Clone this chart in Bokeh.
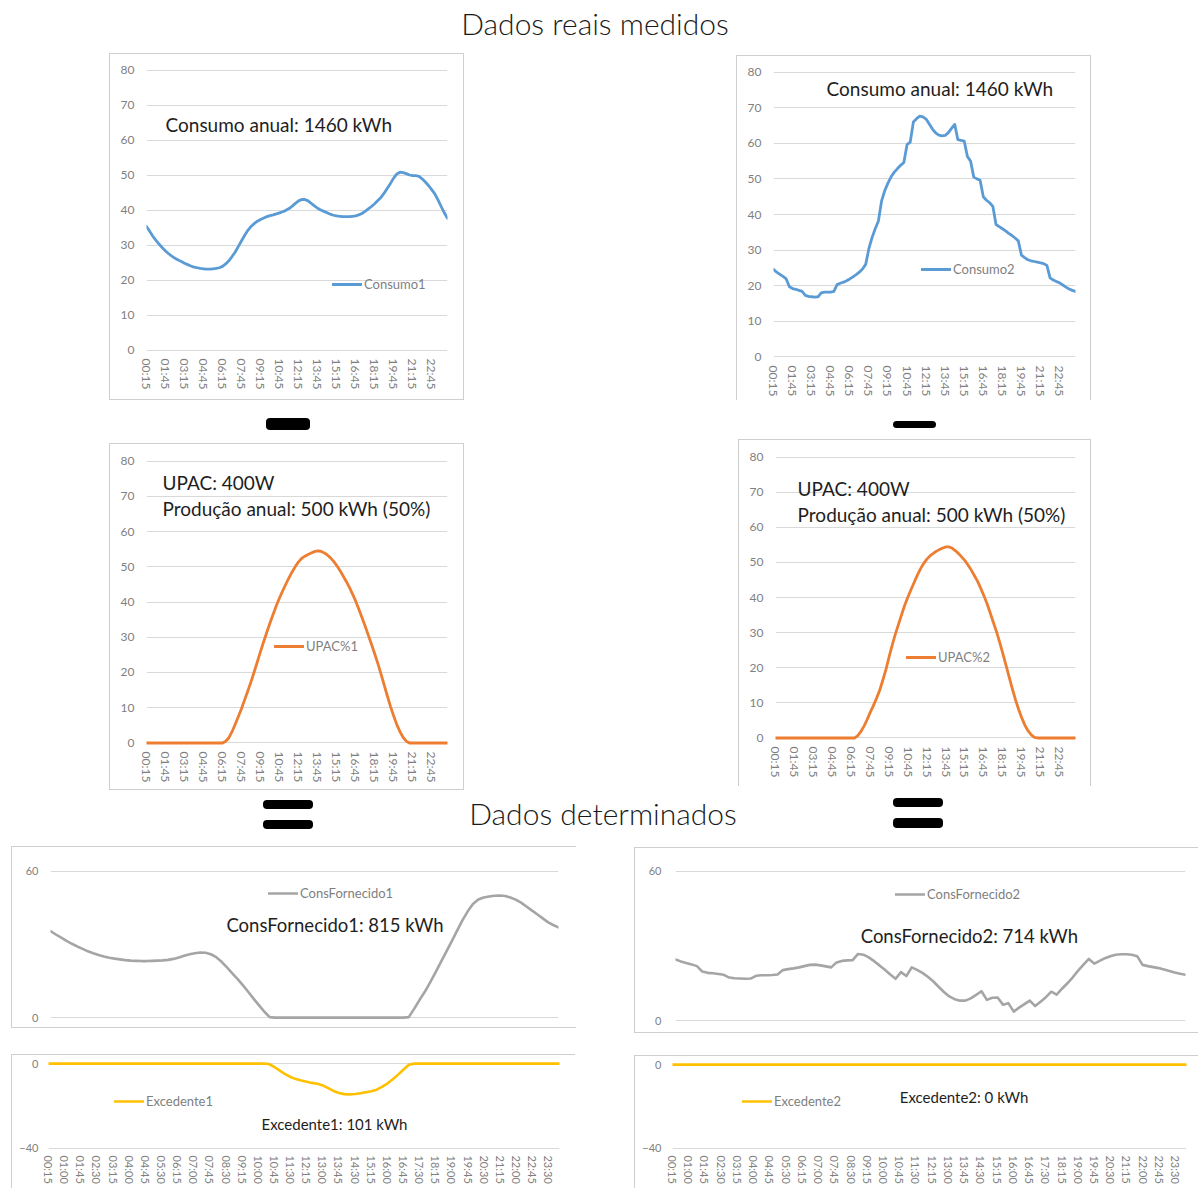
from bokeh.plotting import figure
from bokeh.layouts import column, row
from bokeh.models import Spacer, Div, Range1d, FixedTicker, Label
from bokeh.embed import file_html
from bokeh.resources import INLINE

# ---------------- data ----------------
title_top = "Dados reais medidos"
title_bottom = "Dados determinados"

# 96 quarter-hour categories 00:15 ... 24:00
times = [f"{((k + 1) * 15) // 60:02d}:{((k + 1) * 15) % 60:02d}" for k in range(96)]
idx = list(range(96))
top_tick_idx = list(range(0, 96, 6))      # 00:15, 01:45, ... 22:45
bottom_tick_idx = list(range(0, 96, 3))   # 00:15, 01:00, ... 23:30

consumo1 = [
    35.3, 33.9, 32.5, 31.3, 30.2, 29.2, 28.3, 27.5, 26.8, 26.2, 25.7, 25.3,
    24.8, 24.4, 24.0, 23.7, 23.5, 23.3, 23.2, 23.1, 23.1, 23.2, 23.3, 23.5,
    23.9, 24.6, 25.5, 26.7, 28.0, 29.6, 31.2, 32.8, 34.2, 35.3, 36.1, 36.8,
    37.3, 37.7, 38.1, 38.4, 38.6, 38.9, 39.2, 39.5, 39.9, 40.4, 41.1, 41.9,
    42.6, 43.0, 43.0, 42.6, 41.9, 41.2, 40.5, 40.0, 39.6, 39.2, 38.8, 38.5,
    38.3, 38.2, 38.1, 38.1, 38.1, 38.2, 38.3, 38.6, 39.0, 39.6, 40.3, 41.0,
    41.8, 42.7, 43.6, 44.8, 46.2, 47.6, 49.1, 50.3, 50.8, 50.7, 50.4, 50.0,
    49.8, 49.8, 49.6, 48.9, 48.0, 47.0, 45.8, 44.6, 42.9, 41.0, 39.2, 37.6,
]

consumo2 = [
    24.6, 23.8, 23.2, 22.6, 21.9, 19.7, 19.2, 19.0, 18.7, 18.4, 17.3, 17.0,
    16.9, 16.8, 16.9, 18.0, 18.2, 18.2, 18.2, 18.4, 20.3, 20.7, 21.0, 21.4,
    21.9, 22.5, 23.1, 23.8, 24.7, 26.0, 30.4, 33.5, 36.0, 38.2, 43.8, 46.7,
    48.8, 50.6, 51.9, 52.9, 53.8, 54.6, 59.6, 60.3, 66.0, 66.9, 67.6, 67.4,
    66.8, 65.4, 64.0, 62.9, 62.3, 62.1, 62.2, 63.0, 64.2, 65.3, 61.0, 60.8,
    60.6, 56.3, 55.0, 50.5, 50.0, 49.6, 45.0, 44.0, 43.3, 42.3, 37.2, 36.6,
    36.0, 35.4, 34.7, 34.1, 33.4, 32.6, 28.6, 27.9, 27.3, 27.0, 26.8, 26.6,
    26.4, 26.2, 25.7, 22.2, 21.6, 21.2, 20.8, 20.2, 19.6, 19.1, 18.7, 18.4,
]

upac1 = [
    0, 0, 0, 0, 0, 0, 0, 0, 0, 0, 0, 0,
    0, 0, 0, 0, 0, 0, 0, 0, 0, 0, 0, 0,
    0, 0.5, 1.5, 3.2, 5.3, 7.5, 9.8, 12.3, 14.8, 17.4, 20.2, 23.1,
    26.0, 28.8, 31.5, 34.1, 36.6, 39.0, 41.2, 43.2, 45.1, 46.9, 48.6, 50.1,
    51.4, 52.4, 53.0, 53.5, 53.9, 54.3, 54.5, 54.4, 54.0, 53.4, 52.6, 51.6,
    50.4, 49.0, 47.5, 45.9, 44.2, 42.3, 40.3, 38.0, 35.6, 33.2, 30.6, 28.0,
    25.4, 22.6, 19.6, 16.5, 13.4, 10.4, 7.7, 5.2, 3.2, 1.6, 0.5, 0,
    0, 0, 0, 0, 0, 0, 0, 0, 0, 0, 0, 0,
]

upac2 = [
    0, 0, 0, 0, 0, 0, 0, 0, 0, 0, 0, 0,
    0, 0, 0, 0, 0, 0, 0, 0, 0, 0, 0, 0,
    0, 0, 0.6, 1.8, 3.3, 5.2, 7.3, 9.2, 11.3, 13.6, 16.5, 19.6,
    23.2, 26.6, 29.7, 32.5, 35.3, 38.0, 40.3, 42.4, 44.5, 46.5, 48.3, 49.8,
    51.0, 51.9, 52.6, 53.2, 53.7, 54.1, 54.4, 54.4, 54.0, 53.3, 52.5, 51.5,
    50.5, 49.2, 47.8, 46.2, 44.6, 42.6, 40.5, 38.2, 35.6, 32.9, 30.2, 27.2,
    24.0, 20.7, 17.3, 14.0, 10.9, 8.1, 5.7, 3.6, 2.0, 0.9, 0.2, 0,
    0, 0, 0, 0, 0, 0, 0, 0, 0, 0, 0, 0,
]

cons_fornecido1 = [
    35.5, 34.1, 32.8, 31.5, 30.3, 29.2, 28.2, 27.2, 26.4, 25.7, 25.1, 24.6,
    24.2, 23.9, 23.6, 23.4, 23.3, 23.2, 23.2, 23.3, 23.4, 23.5, 23.7, 24.1,
    24.7, 25.4, 26.0, 26.4, 26.7, 26.6, 26.0, 24.8, 22.9, 20.6, 18.2, 15.8,
    13.2, 10.5, 7.7, 5.0, 2.4, 0.2, 0, 0, 0, 0, 0, 0,
    0, 0, 0, 0, 0, 0, 0, 0, 0, 0, 0, 0,
    0, 0, 0, 0, 0, 0, 0, 0.2, 3.6, 7.2, 10.6, 14.5,
    18.6, 22.8, 27.0, 31.2, 35.5, 39.8, 43.5, 46.6, 48.5, 49.3, 49.7, 50.0,
    50.1, 49.9, 49.3, 48.4, 47.2, 45.6, 44.0, 42.4, 40.8, 39.2, 38.0, 37.0,
]

cons_fornecido2 = [
    24.6, 23.8, 23.2, 22.6, 21.9, 19.7, 19.2, 19.0, 18.7, 18.4, 17.3, 17.0,
    16.9, 16.8, 16.9, 18.0, 18.2, 18.2, 18.3, 18.5, 20.3, 20.7, 21.0, 21.4,
    21.9, 22.4, 22.5, 22.2, 21.8, 21.4, 23.4, 24.0, 24.2, 24.3, 26.8, 26.5,
    25.4, 23.9, 22.2, 20.4, 18.5, 16.8, 19.5, 17.9, 21.4, 20.4, 19.2, 17.6,
    15.8, 13.6, 11.5, 9.7, 8.6, 8.0, 8.0, 8.9, 10.3, 11.8, 8.3, 9.2,
    9.3, 6.4, 7.0, 3.6, 5.2, 6.6, 8.0, 5.8, 7.6, 9.4, 11.6, 10.4,
    12.8, 15.0, 17.4, 20.1, 22.5, 24.8, 22.9, 24.0, 25.1, 25.9, 26.5, 26.7,
    26.7, 26.5, 25.9, 22.4, 21.9, 21.5, 21.1, 20.5, 19.9, 19.3, 18.8, 18.4,
]

excedente1 = [
    0, 0, 0, 0, 0, 0, 0, 0, 0, 0, 0, 0,
    0, 0, 0, 0, 0, 0, 0, 0, 0, 0, 0, 0,
    0, 0, 0, 0, 0, 0, 0, 0, 0, 0, 0, 0,
    0, 0, 0, 0, 0, -0.2, -1.6, -3.3, -5.0, -6.3, -7.3, -8.0,
    -8.6, -9.1, -9.5, -10.3, -11.6, -12.9, -13.9, -14.4, -14.5, -14.3, -14.0, -13.5,
    -13.0, -12.3, -11.0, -9.4, -7.4, -5.2, -2.8, -0.5, 0, 0, 0, 0,
    0, 0, 0, 0, 0, 0, 0, 0, 0, 0, 0, 0,
    0, 0, 0, 0, 0, 0, 0, 0, 0, 0, 0, 0,
]

excedente2 = [
    0, 0, 0, 0, 0, 0, 0, 0, 0, 0, 0, 0,
    0, 0, 0, 0, 0, 0, 0, 0, 0, 0, 0, 0,
    0, 0, 0, 0, 0, 0, 0, 0, 0, 0, 0, 0,
    0, 0, 0, 0, 0, 0, 0, 0, 0, 0, 0, 0,
    0, 0, 0, 0, 0, 0, 0, 0, 0, 0, 0, 0,
    0, 0, 0, 0, 0, 0, 0, 0, 0, 0, 0, 0,
    0, 0, 0, 0, 0, 0, 0, 0, 0, 0, 0, 0,
    0, 0, 0, 0, 0, 0, 0, 0, 0, 0, 0, 0,
]

top_y_ticks = [0, 10, 20, 30, 40, 50, 60, 70, 80]
mid_y_ticks = [0, 60]
low_y_ticks = [-40, 0]

# ---------------- style ----------------
FONT = "Lato"
GRID = "#d9d9d9"
TICK_COLOR = "#7f7f7f"
TEXT_COLOR = "#1e1e1e"
BLUE, ORANGE, GREY, GOLD = "#5b9bd5", "#ed7d31", "#a5a5a5", "#ffc000"


def box_style(sides):
    c = "#cfcfcf"
    parts = []
    if "l" in sides:
        parts.append(f"inset 1px 0 0 {c}")
    if "t" in sides:
        parts.append(f"inset 0 1px 0 {c}")
    if "r" in sides:
        parts.append(f"inset -1px 0 0 {c}")
    if "b" in sides:
        parts.append(f"inset 0 -1px 0 {c}")
    return {"box-shadow": ", ".join(parts), "background-color": "white"}


def make_chart(w, h, borders, y_range, y_ticks, x_ticks, values, color, name,
               legend_xy, sides, y_font="12px", x_font="12px", y_standoff=12,
               x_standoff=5, show_x=True, lw=2.8, legend_font="13px"):
    mbl, mbr, mbt, mbb = borders
    p = figure(width=w, height=h, x_range=Range1d(0, 95), y_range=Range1d(*y_range),
               output_backend="svg", toolbar_location=None,
               min_border_left=mbl, min_border_right=mbr,
               min_border_top=mbt, min_border_bottom=mbb)
    p.styles = box_style(sides)
    p.border_fill_color = None
    p.background_fill_color = None
    p.outline_line_color = None
    p.xgrid.visible = False
    p.ygrid.ticker = FixedTicker(ticks=y_ticks)
    p.ygrid.grid_line_color = GRID
    p.ygrid.grid_line_width = 1

    ya = p.yaxis[0]
    ya.ticker = FixedTicker(ticks=y_ticks)
    ya.axis_line_color = None
    ya.major_tick_line_color = None
    ya.minor_tick_line_color = None
    ya.major_tick_out = 0
    ya.minor_tick_out = 0
    ya.major_tick_in = 0
    ya.minor_tick_in = 0
    ya.major_label_standoff = y_standoff
    ya.major_label_text_font = FONT
    ya.major_label_text_font_size = y_font
    ya.major_label_text_color = TICK_COLOR

    xa = p.xaxis[0]
    if show_x:
        xa.ticker = FixedTicker(ticks=x_ticks)
        xa.major_label_overrides = {i: times[i] for i in x_ticks}
        xa.major_label_orientation = "vertical"
        xa.axis_line_color = None
        xa.major_tick_line_color = None
        xa.minor_tick_line_color = None
        xa.major_tick_out = 0
        xa.minor_tick_out = 0
        xa.major_tick_in = 0
        xa.minor_tick_in = 0
        xa.major_label_standoff = x_standoff
        xa.major_label_text_font = FONT
        xa.major_label_text_font_size = x_font
        xa.major_label_text_color = TICK_COLOR
    else:
        xa.visible = False

    p.line(idx, values, line_color=color, line_width=lw, legend_label=name,
           line_join="round", line_cap="round")
    lg = p.legend[0]
    lg.location = legend_xy
    lg.border_line_color = None
    lg.background_fill_alpha = 0
    lg.padding = 0
    lg.margin = 0
    lg.spacing = 0
    lg.glyph_width = 30
    lg.glyph_height = 12
    lg.label_height = 12
    lg.label_standoff = 2
    lg.label_text_font = FONT
    lg.label_text_font_size = legend_font
    lg.label_text_color = TICK_COLOR
    return p


def add_text(p, x, y, text, size="19px"):
    p.add_layout(Label(x=x, y=y, text=text, text_font=FONT, text_font_size=size,
                       text_color=TEXT_COLOR, text_baseline="middle", text_align="left"))


def bar(w, h):
    return Div(text="", width=w, height=h, margin=0,
               styles={"background-color": "#000000", "border-radius": "4px"})


title_style = {"font-family": FONT, "font-size": "30px", "font-weight": "300",
               "text-align": "center", "line-height": "1.3", "color": "#1a1a1a",
               "white-space": "nowrap"}

# ---------------- charts ----------------
c1 = make_chart(355, 347, (37, 17, 13, 47), (-1, 81), top_y_ticks, top_tick_idx,
                consumo1, BLUE, "Consumo1", (186, 61), "ltrb")
add_text(c1, 6.0, 64.3, "Consumo anual:  1460 kWh")

c2 = make_chart(355, 345, (37, 16, 13, 40), (-1, 81), top_y_ticks, top_tick_idx,
                consumo2, BLUE, "Consumo2", (148, 83), "ltr")
add_text(c2, 16.7, 75.5, "Consumo anual:  1460 kWh")

c3 = make_chart(355, 347, (37, 17, 14, 44), (-1, 81), top_y_ticks, top_tick_idx,
                upac1, ORANGE, "UPAC%1", (128, 92), "ltrb")
add_text(c3, 5.05, 73.8, "UPAC: 400W")
add_text(c3, 5.05, 66.4, "Produção anual: 500 kWh (50%)")

c4 = make_chart(353, 347, (37, 16, 14, 45), (-1, 81), top_y_ticks, top_tick_idx,
                upac2, ORANGE, "UPAC%2", (131, 76), "ltr")
add_text(c4, 7.0, 70.9, "UPAC: 400W")
add_text(c4, 7.0, 63.5, "Produção anual: 500 kWh (50%)")

c5 = make_chart(565, 182, (39, 18, 20, 6), (-2, 62), mid_y_ticks, bottom_tick_idx,
                cons_fornecido1, GREY, "ConsFornecido1", (218, 121), "ltb",
                y_font="11px", y_standoff=12, show_x=False, lw=2.6)
add_text(c5, 32.9, 37.8, "ConsFornecido1: 815 kWh", size="18.5px")

c6 = make_chart(564, 186, (41, 13, 19, 8), (-2, 62), mid_y_ticks, bottom_tick_idx,
                cons_fornecido2, GREY, "ConsFornecido2", (220, 123), "ltb",
                y_font="11px", y_standoff=14, show_x=False, lw=2.6)
add_text(c6, 34.5, 34.2, "ConsFornecido2: 714 kWh", size="18.5px")

c7 = make_chart(564, 134, (37, 16, 7, 38), (-41, 1), low_y_ticks, bottom_tick_idx,
                excedente1, GOLD, "Excedente1", (66, 41), "lt",
                y_font="11px", y_standoff=10, x_font="11px", x_standoff=5, lw=2.6)
add_text(c7, 39.6, -28.7, "Excedente1: 101 kWh", size="15px")

c8 = make_chart(564, 133, (38, 12, 7, 38), (-41, 1), low_y_ticks, bottom_tick_idx,
                excedente2, GOLD, "Excedente2", (70, 41), "lt",
                y_font="11px", y_standoff=11, x_font="11px", x_standoff=5, lw=2.6)
add_text(c8, 42.0, -15.7, "Excedente2: 0 kWh", size="15px")

# ---------------- layout (page pixels) ----------------
title1 = Div(text=title_top, width=1190, height=49, margin=0, styles=title_style)
top = column(Spacer(width=1190, height=4), title1)

row1 = row(Spacer(width=109, height=347), c1, Spacer(width=272, height=347),
           column(Spacer(width=355, height=2), c2))

mark1 = row(Spacer(width=266, height=39),
            column(Spacer(width=44, height=18), bar(44, 12)),
            Spacer(width=583, height=39),
            column(Spacer(width=43, height=21), bar(43, 7)))

row2 = row(Spacer(width=109, height=351), column(Spacer(width=355, height=4), c3),
           Spacer(width=274, height=351), c4)

title2 = Div(text=title_bottom, width=580, height=48, margin=0, styles=title_style)
mid = row(Spacer(width=263, height=56),
          column(Spacer(width=50, height=10), bar(50, 9), Spacer(width=50, height=11), bar(50, 9)),
          column(Spacer(width=580, height=4), title2),
          column(Spacer(width=50, height=8), bar(50, 9), Spacer(width=50, height=11), bar(50, 10)))

row3 = row(Spacer(width=11, height=187), c5, Spacer(width=58, height=187),
           column(Spacer(width=564, height=1), c6))

gap = Spacer(width=10, height=21)

row4 = row(Spacer(width=11, height=134), c7, Spacer(width=59, height=134),
           column(Spacer(width=564, height=1), c8))

page = column(top, row1, mark1, row2, mid, row3, gap, row4)

open("out.html", "w").write(file_html(page, INLINE, title="Dados reais medidos"))
